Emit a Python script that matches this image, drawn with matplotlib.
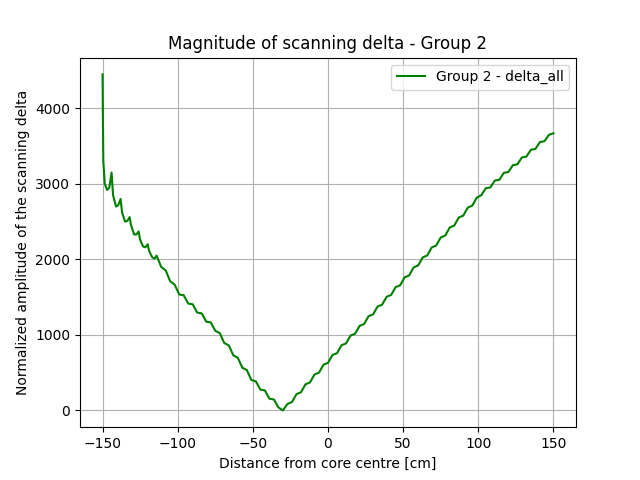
import matplotlib
matplotlib.use("Agg")
import matplotlib.pyplot as plt

x_left = [-150, -149.5, -148.5, -147, -145.5, -144, -143, -141, -139.5, -138, -137, -135, -133.5, -132,
          -131, -129, -127.5, -126, -125, -123, -121.5, -120, -119, -117, -115.5, -114]
y_left = [4450, 3300, 3000, 2920, 2950, 3150, 2850, 2700, 2720, 2800, 2620, 2500, 2510, 2560,
          2450, 2330, 2330, 2370, 2260, 2170, 2160, 2200, 2110, 2030, 2010, 2050]
x_mid = [-111, -108, -105, -102, -99, -96, -93, -90, -87, -84, -81, -78, -75, -72, -69, -66, -63,
         -60, -57, -54, -51, -48, -45, -42, -39, -36, -33, -30]
y_mid = [1900, 1855, 1710, 1665, 1535, 1525, 1415, 1405, 1295, 1285, 1175, 1165, 1055, 1023, 892,
         861, 729, 697, 565, 535, 402, 385, 275, 265, 155, 145, 40, 0]
x_right = [-27, -24, -21, -18, -15, -12, -9, -6, -3, 0, 3, 6, 9, 12, 15, 18, 21, 24, 27, 30, 33, 36,
           39, 42, 45, 48, 51, 54, 57, 60, 63, 66, 69, 72, 75, 78, 81, 84, 87, 90, 93, 96, 99, 102,
           105, 108, 111, 114, 117, 120, 123, 126, 129, 132, 135, 138, 141, 144, 147, 150]
y_right = [85, 110, 215, 240, 345, 370, 475, 500, 605, 630, 734, 758, 863, 887, 991, 1015, 1119,
           1144, 1248, 1272, 1376, 1400, 1505, 1529, 1633, 1657, 1762, 1788, 1894, 1920, 2026, 2052,
           2158, 2184, 2290, 2316, 2422, 2448, 2554, 2580, 2686, 2712, 2818, 2851, 2942, 2953, 3044,
           3055, 3146, 3157, 3248, 3259, 3350, 3361, 3452, 3463, 3554, 3565, 3650, 3670]

x = x_left + x_mid + x_right
y = y_left + y_mid + y_right

fig, ax = plt.subplots(figsize=(6.4, 4.8), dpi=100)
ax.plot(x, y, color="green", label="Group 2 - delta_all")
ax.set_title("Magnitude of scanning delta - Group 2")
ax.set_xlabel("Distance from core centre [cm]")
ax.set_ylabel("Normalized amplitude of the scanning delta")
ax.set_xticks([-150, -100, -50, 0, 50, 100, 150])
ax.set_yticks([0, 1000, 2000, 3000, 4000])
ax.grid(True)
ax.legend(loc="upper right")
fig.savefig("out.png")
